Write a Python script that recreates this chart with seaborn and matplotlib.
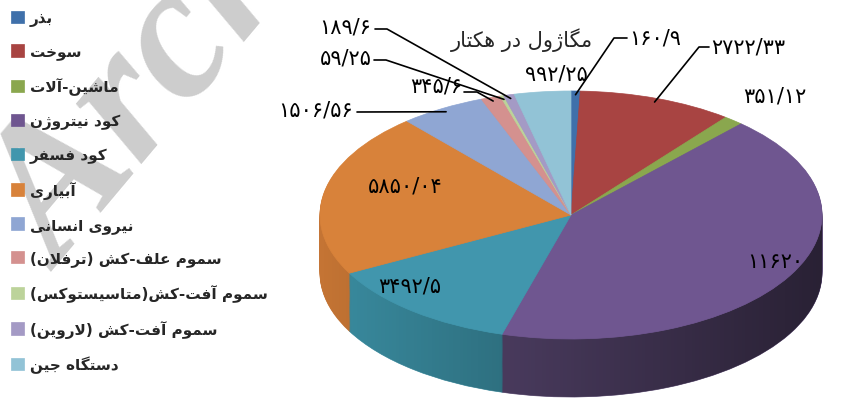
import numpy as np
import matplotlib
matplotlib.use("Agg")
import matplotlib.pyplot as plt
from matplotlib.patches import Polygon
import seaborn as sns

sns.set_theme(style="white")
plt.rcParams['font.family'] = ['DejaVu Sans']

# data (energy inputs, MJ per hectare)
categories = ['بذر', 'سوخت', 'ماشین-آلات', 'کود نیتروژن', 'کود فسفر', 'آبیاری',
              'نیروی انسانی', 'سموم علف-کش (ترفلان)', 'سموم آفت-کش(متاسیستوکس)',
              'سموم آفت-کش (لاروین)', 'دستگاه جین']
energy = [160.9, 2722.33, 351.12, 11620, 3492.5, 5850.04, 1506.56, 345.6, 59.25, 189.6, 992.25]
unit_title = 'مگاژول در هکتار'

colors = ['#3f70aa', '#a84442', '#8aa74e', '#6f5690', '#4196ad', '#d8823a',
          '#8fa6d3', '#d4918f', '#bcd39a', '#a49ac5', '#92c3d6']
side_colors = ['#345e90', '#8f3937', '#748d42', '#5b4974', '#3a8ca0', '#c47434',
               '#7a8eb5', '#b57d7b', '#a0b583', '#8b82a8', '#7ca8b8']

# --- small Persian shaper (matplotlib has no complex text layout) ---
ARABIC = {
    '\u0627': ('\uFE8D', '\uFE8E'), '\u0622': ('\uFE81', '\uFE82'),
    '\u0628': ('\uFE8F', '\uFE90', '\uFE91', '\uFE92'),
    '\u062A': ('\uFE95', '\uFE96', '\uFE97', '\uFE98'),
    '\u062C': ('\uFE9D', '\uFE9E', '\uFE9F', '\uFEA0'),
    '\u062E': ('\uFEA5', '\uFEA6', '\uFEA7', '\uFEA8'),
    '\u062F': ('\uFEA9', '\uFEAA'), '\u0630': ('\uFEAB', '\uFEAC'),
    '\u0631': ('\uFEAD', '\uFEAE'), '\u0698': ('\uFB8A', '\uFB8B'),
    '\u0633': ('\uFEB1', '\uFEB2', '\uFEB3', '\uFEB4'),
    '\u0634': ('\uFEB5', '\uFEB6', '\uFEB7', '\uFEB8'),
    '\u0639': ('\uFEC9', '\uFECA', '\uFECB', '\uFECC'),
    '\u0641': ('\uFED1', '\uFED2', '\uFED3', '\uFED4'),
    '\u06A9': ('\uFB8E', '\uFB8F', '\uFB90', '\uFB91'),
    '\u06AF': ('\uFB92', '\uFB93', '\uFB94', '\uFB95'),
    '\u0644': ('\uFEDD', '\uFEDE', '\uFEDF', '\uFEE0'),
    '\u0645': ('\uFEE1', '\uFEE2', '\uFEE3', '\uFEE4'),
    '\u0646': ('\uFEE5', '\uFEE6', '\uFEE7', '\uFEE8'),
    '\u0647': ('\uFEE9', '\uFEEA', '\uFEEB', '\uFEEC'),
    '\u0648': ('\uFEED', '\uFEEE'),
    '\u06CC': ('\uFBFC', '\uFBFD', '\uFBFE', '\uFBFF'),
}
LAM_ALEF = {'\u0627': ('\uFEFB', '\uFEFC'), '\u0622': ('\uFEF5', '\uFEF6')}


def dual(c):
    return c in ARABIC and len(ARABIC[c]) == 4


def shape_fa(text):
    text = text.replace('\u0643', '\u06A9').replace('\u064A', '\u06CC')
    out = []
    i = 0
    while i < len(text):
        c = text[i]
        jp = i > 0 and dual(text[i - 1])
        if c == '\u0644' and i + 1 < len(text) and text[i + 1] in LAM_ALEF:
            out.append(LAM_ALEF[text[i + 1]][1 if jp else 0])
            i += 2
            continue
        if c in ARABIC:
            f = ARABIC[c]
            jn = len(f) == 4 and i + 1 < len(text) and text[i + 1] in ARABIC
            if jp and jn:
                out.append(f[3])
            elif jp:
                out.append(f[1])
            elif jn:
                out.append(f[2])
            else:
                out.append(f[0])
        else:
            out.append(c)
        i += 1
    mirror = {'(': ')', ')': '('}
    return ''.join(mirror.get(ch, ch) for ch in reversed(out))


def fa_num(v):
    s = f'{v:g}'.replace('.', '/')
    return s.translate(str.maketrans('0123456789', '۰۱۲۳۴۵۶۷۸۹'))


# pie geometry in image pixels
CX, CY, RX, RY, DEPTH = 571, 216, 251, 124, 58
W, H = 841, 402


def px(x, y):
    return ((x - CX) / RX, (CY - y) / RY)


fig = plt.figure(figsize=(8.41, 4.02), dpi=100)
ax = fig.add_axes([0, 0, 1, 1])

# watermark, behind everything
ax.text(62 / W, 1 - 272 / H, 'Archive of SID', transform=fig.transFigure, rotation=50,
        rotation_mode='anchor', ha='left', va='baseline', fontsize=138, color='#cdcdcd',
        family='Liberation Serif', style='italic', weight='bold', zorder=0)

# side of the 3d pie: stacked darker pies
d = DEPTH / RY
n_layers = 60
for k in range(n_layers, 0, -1):
    ws, _ = ax.pie(energy, colors=side_colors, startangle=90, counterclock=False,
                   center=(0, -k * d / n_layers), wedgeprops=dict(linewidth=0.5))
    for w in ws:
        w.set_edgecolor(w.get_facecolor())

# light falls from the left: darken the side towards the right
t = np.linspace(np.pi, 2 * np.pi, 200)
band = np.vstack([np.c_[np.cos(t), np.sin(t)], np.c_[np.cos(t[::-1]), np.sin(t[::-1]) - d]])
clip = Polygon(band, closed=True, transform=ax.transData)
shade = np.zeros((1, 256, 4))
shade[0, :, 3] = np.linspace(0, 0.55, 256)
img = ax.imshow(shade, extent=(-1, 1, -1 - d, 0), aspect='auto', zorder=1.5)
img.set_clip_path(clip)

wedges, _ = ax.pie(energy, colors=colors, startangle=90, counterclock=False,
                   wedgeprops=dict(linewidth=0.5, zorder=2))
for w in wedges:
    w.set_edgecolor(w.get_facecolor())

ax.set_aspect('auto')
ax.set_xlim(px(0, 0)[0], px(W, 0)[0])
ax.set_ylim(px(0, H)[1], px(0, 0)[1])
ax.axis('off')

# value labels: text position (px), alignment, leader elbow (px) or None
label_pos = [(629, 38, 'left', [(627, 39), (614, 39)]),
             (711, 47, 'left', [(709, 48), (699, 48)]),
             (775, 97, 'center', None),
             (775, 262, 'center', None),
             (410, 287, 'center', None),
             (405, 187, 'center', None),
             (353, 110, 'right', [(357, 113)]),
             (462, 86, 'right', [(464, 93), (477, 93)]),
             (372, 58, 'right', [(374, 61), (386, 61)]),
             (371, 27, 'right', [(375, 30), (387, 30)]),
             (556, 75, 'center', None)]

for w, v, (lx, ly, ha, elbow) in zip(wedges, energy, label_pos):
    tx, ty = px(lx, ly)
    ax.text(tx, ty, fa_num(v), ha=ha, va='center', fontsize=15, color='black', zorder=4)
    if elbow is not None:
        mid = np.deg2rad((w.theta1 + w.theta2) / 2)
        pts = [px(*p) for p in elbow] + [(0.97 * np.cos(mid), 0.97 * np.sin(mid))]
        ax.plot([p[0] for p in pts], [p[1] for p in pts], color='black', lw=1.2, zorder=4)

tx, ty = px(522, 40)
ax.text(tx, ty, shape_fa(unit_title), ha='center', va='center', fontsize=15, zorder=4)

leg = ax.legend(wedges, [shape_fa(c) for c in categories], loc='upper left',
                bbox_to_anchor=(11 / W, 1 - 11 / H), bbox_transform=fig.transFigure,
                frameon=False, prop={'weight': 'bold', 'size': 11},
                handlelength=0.85, handleheight=0.85, labelspacing=1.17,
                handletextpad=0.4, borderaxespad=0, borderpad=0)
leg.set_zorder(5)

fig.savefig('out.png', dpi=100)
